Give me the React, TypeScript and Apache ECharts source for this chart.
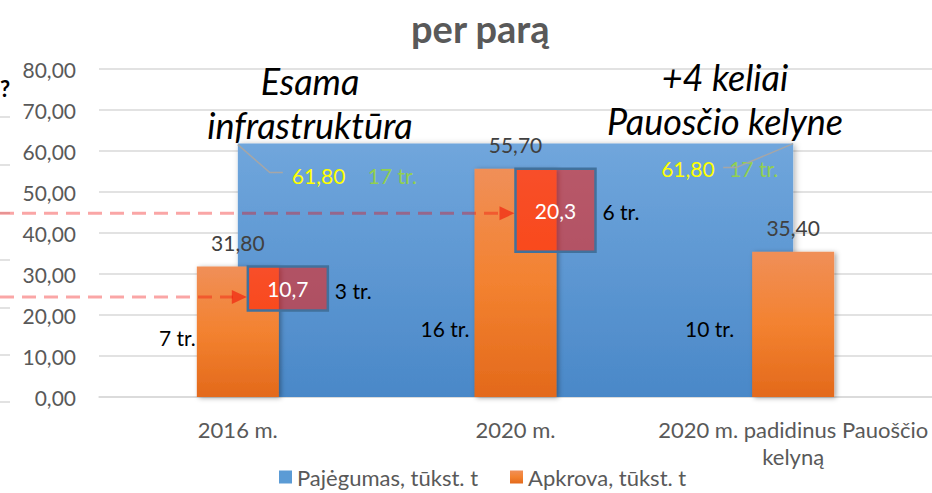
import React, { useEffect, useRef } from "react";
import * as echarts from "echarts";

const CATEGORIES = ["2016 m.", "2020 m.", "2020 m. padidinus Pauoščio\nkelyną"];
const CAPACITY = [61.8, 61.8, 61.8];
const LOAD = [31.8, 55.7, 35.4];
const LOAD_TRAINS = ["7 tr.", "16 tr.", "10 tr."];
const GAP_INDEX = [0, 1];
const GAP_VALUES = [10.7, 20.3];
const GAP_TRAINS = ["3 tr.", "6 tr."];
const ARROW_LEVELS = [24.4, 44.8];
const CAPACITY_LABEL_INDEX = [0, 2];
const CAPACITY_TRAINS = "17 tr.";
const TITLE = "per parą";
const NOTE_LEFT = ["Esama", "infrastruktūra"];
const NOTE_RIGHT = ["+4 keliai", "Pauosčio kelyne"];
const SERIES_NAMES = ["Pajėgumas, tūkst. t", "Apkrova, tūkst. t"];

const FONT = "Lato, 'Noto Sans', sans-serif";
const fmt = (v: number, d = 2) => v.toFixed(d).replace(".", ",");

export default function App() {
  const ref = useRef<HTMLDivElement>(null);
  useEffect(() => {
    if (!ref.current) return;
    const chart = echarts.init(ref.current, undefined, { renderer: "svg" });
    const BOX_DX = [10, 0];
    const BOX_W = 80;

    const option: any = {
      animation: false,
      title: {
        text: TITLE,
        left: 406,
        top: 4,
        textStyle: { fontFamily: FONT, fontSize: 38, fontWeight: "bold", color: "#595959" },
      },
      grid: { left: 99, right: 0, top: 69, bottom: 96 },
      legend: {
        left: 279,
        top: 465,
        padding: 0,
        icon: "rect",
        itemWidth: 13,
        itemHeight: 13,
        itemGap: 32,
        data: SERIES_NAMES,
        textStyle: { fontFamily: FONT, fontSize: 22, lineHeight: 24, color: "#595959" },
      },
      xAxis: {
        type: "category",
        data: CATEGORIES,
        axisLine: { lineStyle: { color: "#d9d9d9", width: 1.5 } },
        axisTick: { show: false },
        axisLabel: { interval: 0, fontFamily: FONT, fontSize: 22, color: "#595959", margin: 19, lineHeight: 27 },
      },
      yAxis: {
        type: "value",
        min: 0,
        max: 80,
        interval: 10,
        axisLine: { show: false },
        axisTick: { show: false },
        splitLine: { lineStyle: { color: "#d9d9d9", width: 1.5 } },
        axisLabel: { fontFamily: FONT, fontSize: 21, color: "#595959", margin: 23, formatter: (v: number) => fmt(v) },
      },
      series: [
        {
          name: SERIES_NAMES[0],
          type: "line",
          data: CAPACITY,
          symbol: "none",
          z: 1,
          lineStyle: { width: 0 },
          itemStyle: { color: "#5b9bd5" },
          areaStyle: {
            opacity: 1,
            color: new echarts.graphic.LinearGradient(0, 0, 0, 1, [
              { offset: 0, color: "#70a6dc" },
              { offset: 1, color: "#4a88c8" },
            ]),
            shadowBlur: 6,
            shadowColor: "rgba(0,0,0,0.3)",
            shadowOffsetX: 2,
            shadowOffsetY: 1,
          },
        },
        {
          name: SERIES_NAMES[1],
          type: "bar",
          data: LOAD,
          barWidth: 82,
          z: 3,
          itemStyle: {
            color: new echarts.graphic.LinearGradient(0, 0, 0, 1, [
              { offset: 0, color: "#f08f58" },
              { offset: 0.5, color: "#f38230" },
              { offset: 1, color: "#e3691b" },
            ]),
            shadowBlur: 5,
            shadowColor: "rgba(0,0,0,0.35)",
            shadowOffsetX: 2,
            shadowOffsetY: 1,
          },
          label: {
            show: true,
            position: "top",
            distance: 14,
            fontFamily: FONT,
            fontSize: 21,
            color: "#404040",
            formatter: (p: any) => fmt(p.value),
          },
        },
        {
          type: "custom",
          z: 5,
          data: GAP_INDEX.map((i, k) => [i, LOAD[i], GAP_VALUES[k], k]),
          renderItem: (params: any, api: any) => {
            const idx = api.value(0);
            const top = api.value(1);
            const diff = api.value(2);
            const k = api.value(3);
            const p1 = api.coord([idx, top]);
            const p2 = api.coord([idx, top - diff]);
            const x = p1[0] + BOX_DX[k];
            return {
              type: "group",
              children: [
                {
                  type: "rect",
                  shape: { x, y: p1[1], width: BOX_W, height: p2[1] - p1[1] },
                  style: { fill: "rgba(255,20,0,0.52)", stroke: "#41719c", lineWidth: 2.5 },
                },
                {
                  type: "text",
                  style: {
                    text: fmt(diff, 1),
                    x: x + BOX_W / 2,
                    y: (p1[1] + p2[1]) / 2,
                    align: "center",
                    verticalAlign: "middle",
                    textAlign: "center",
                    textVerticalAlign: "middle",
                    fill: "#ffffff",
                    fontSize: 21,
                    fontFamily: FONT,
                  },
                },
              ],
            };
          },
        },
      ],
    };
    chart.setOption(option);

    const px = (i: number, v: number) => chart.convertToPixel({ gridIndex: 0 }, [i, v]) as number[];
    const txt = (text: string, x: number, y: number, o: any = {}) => ({
      type: "text",
      z: 100,
      style: {
        text,
        x,
        y,
        align: o.align || "left",
        textAlign: o.align || "left",
        verticalAlign: "middle",
        textVerticalAlign: "middle",
        fill: o.fill || "#000000",
        fontSize: o.fontSize || 21,
        fontFamily: FONT,
        fontStyle: o.fontStyle || "normal",
        fontWeight: o.fontWeight || "normal",
      },
    });

    const g: any[] = [];
    // left-edge remnants of a neighbouring chart
    [117, 165, 213, 260, 308, 355, 402].forEach((y) =>
      g.push({ type: "line", shape: { x1: 0, y1: y, x2: 10, y2: y }, style: { stroke: "#d9d9d9", lineWidth: 1.5 } })
    );
    g.push(txt("?", 0, 88, { fontWeight: "bold", fontSize: 22 }));

    // italic notes
    const noteStyle = { align: "center", fontSize: 36, fontStyle: "italic" };
    g.push(txt(NOTE_LEFT[0], 310, 81, noteStyle));
    g.push(txt(NOTE_LEFT[1], 310, 125, noteStyle));
    g.push(txt(NOTE_RIGHT[0], 725, 77, noteStyle));
    g.push(txt(NOTE_RIGHT[1], 725, 121, noteStyle));

    // capacity labels with leader lines
    CAPACITY_LABEL_INDEX.forEach((i, n) => {
      const p = px(i, CAPACITY[i]);
      if (n === 0) {
        g.push({ type: "polyline", z: 90, shape: { points: [[p[0], p[1] + 1], [p[0] + 32, p[1] + 29], [p[0] + 45, p[1] + 29]] }, style: { stroke: "#a6a6a6", lineWidth: 1.5, fill: "none" } });
        g.push(txt(fmt(CAPACITY[i]), p[0] + 54, p[1] + 32, { fill: "#ffff00" }));
        g.push(txt(CAPACITY_TRAINS, p[0] + 130, p[1] + 32, { fill: "#92d050" }));
      } else {
        g.push(txt(fmt(CAPACITY[i]), p[0] - 132, p[1] + 25, { fill: "#ffff00" }));
        g.push(txt(CAPACITY_TRAINS, p[0] - 64, p[1] + 25, { fill: "#92d050" }));
        g.push({ type: "polyline", z: 101, shape: { points: [[p[0], p[1]], [p[0] - 57, p[1] + 24], [p[0] - 70, p[1] + 24]] }, style: { stroke: "#a6a6a6", lineWidth: 1.5, fill: "none" } });
      }
    });

    // arrows to gap boxes
    GAP_INDEX.forEach((i, k) => {
      const c = px(i, ARROW_LEVELS[k]);
      const tip = c[0] + BOX_DX[k] - 1;
      const y = c[1];
      g.push({ type: "line", z: 95, shape: { x1: 0, y1: y, x2: tip - 14, y2: y }, style: { stroke: "rgba(240,0,0,0.35)", lineWidth: 3, lineDash: [14, 8] } });
      g.push({ type: "polygon", z: 95, shape: { points: [[tip - 15, y - 7], [tip, y], [tip - 15, y + 7]] }, style: { fill: "rgba(240,10,0,0.55)" } });
      const b = px(i, LOAD[i] - GAP_VALUES[k] / 2);
      g.push(txt(GAP_TRAINS[k], c[0] + BOX_DX[k] + BOX_W + 7, b[1] + (k === 0 ? 2 : 1)));
    });

    // trains per load bar
    const trainPos = [
      [-42, 14.4],
      [-46, 16.6],
      [-59, 16.6],
    ];
    LOAD_TRAINS.forEach((t, i) => {
      const c = px(i, trainPos[i][1]);
      g.push(txt(t, c[0] + trainPos[i][0], c[1], { align: "right" }));
    });

    chart.setOption({ graphic: { elements: g } });
    return () => chart.dispose();
  }, []);

  return (
    <div
      ref={ref}
      style={{ position: "fixed", left: 0, top: 0, width: 932, height: 493, background: "#ffffff" }}
    />
  );
}
